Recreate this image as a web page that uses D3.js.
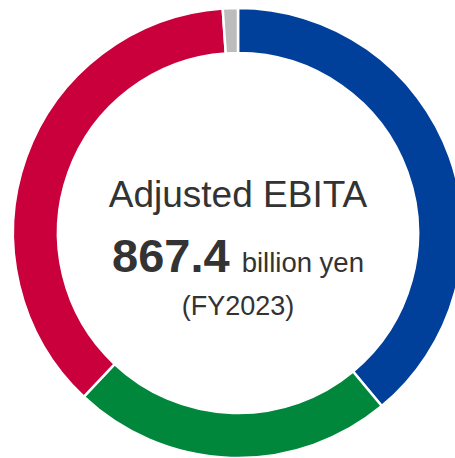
<!DOCTYPE html>
<html>
<head>
<meta charset="utf-8">
<script src="https://cdn.jsdelivr.net/npm/d3@7"></script>
<style>
  body { margin: 0; background: #fff; overflow: hidden; }
  svg { display: block; }
</style>
</head>
<body>
<svg id="chart" width="455" height="458"></svg>
<script>
// segment data (billion yen, read from the ring)
var segments = ["Digital Systems & Services", "Green Energy & Mobility", "Connective Industries", "Others"];
var values = [338, 200, 320, 9.4];
var colors = ["#00409a", "#00873c", "#c9003c", "#bcbcbc"];

var title = "Adjusted EBITA";
var total = "867.4";
var unit = "billion yen";
var period = "(FY2023)";

var svg = d3.select("#chart"),
    width = +svg.attr("width"),
    height = +svg.attr("height");

var cx = 238, cy = 233;
var outer = 225, inner = 180;

var pie = d3.pie().sort(null);
var arc = d3.arc().innerRadius(inner).outerRadius(outer);

var g = svg.append("g").attr("transform", "translate(" + cx + "," + cy + ")");

g.selectAll("path")
  .data(pie(values))
  .enter()
  .append("path")
  .attr("d", arc)
  .attr("fill", (d, i) => colors[i])
  .attr("stroke", "#fff")
  .attr("stroke-width", 2.5);

var font = "'Liberation Sans', Arial, Helvetica, sans-serif";

g.append("text")
  .attr("x", 0).attr("y", 207 - cy)
  .attr("text-anchor", "middle")
  .style("font-family", font)
  .style("font-size", "37px")
  .style("fill", "#333")
  .text(title);

var line2 = g.append("text")
  .attr("x", 0).attr("y", 272 - cy)
  .attr("text-anchor", "middle")
  .style("font-family", font)
  .style("fill", "#333");
line2.append("tspan")
  .style("font-size", "47px")
  .style("font-weight", "bold")
  .text(total);
line2.append("tspan")
  .attr("dx", 12)
  .style("font-size", "27.5px")
  .text(unit);

g.append("text")
  .attr("x", 0).attr("y", 315 - cy)
  .attr("text-anchor", "middle")
  .style("font-family", font)
  .style("font-size", "27px")
  .style("fill", "#333")
  .text(period);
</script>
</body>
</html>
